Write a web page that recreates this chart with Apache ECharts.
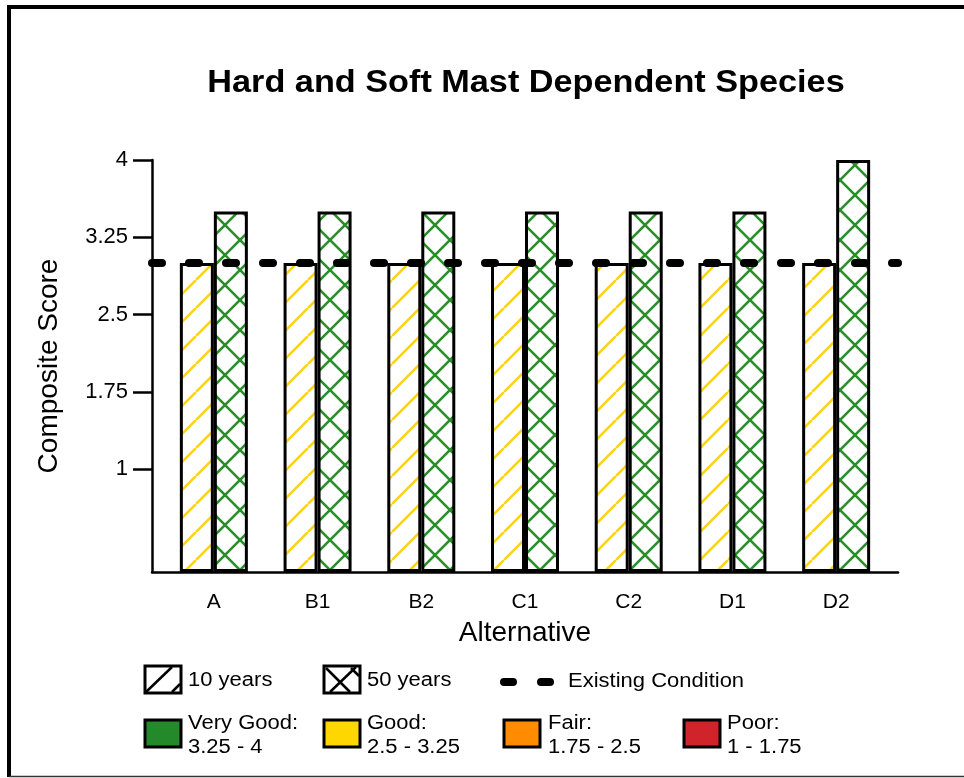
<!DOCTYPE html>
<html>
<head>
<meta charset="utf-8">
<script src="https://cdn.jsdelivr.net/npm/echarts@6/dist/echarts.min.js"></script>
<style>
  html, body { margin: 0; padding: 0; background: #fff; }
  #chart { width: 964px; height: 778px; }
</style>
</head>
<body>
<div id="chart"></div>
<script>
// Composite scores per alternative
const categories = ['A', 'B1', 'B2', 'C1', 'C2', 'D1', 'D2'];
const years10 = [3, 3, 3, 3, 3, 3, 3];
const years50 = [3.5, 3.5, 3.5, 3.5, 3.5, 3.5, 4];
const existingCondition = 3;
const yTicks = [1, 1.75, 2.5, 3.25, 4];
const seriesNames = ['10 years', '50 years', 'Existing Condition'];
const ratingNames = ['Very Good:', 'Good:', 'Fair:', 'Poor:'];
const ratingRanges = ['3.25 - 4', '2.5 - 3.25', '1.75 - 2.5', '1 - 1.75'];

const FONT = '"Liberation Sans", Arial, sans-serif';
const ratingColors = ['#23892a', '#ffd700', '#ff8c00', '#d0232a'];

// Hatch tile: "/" lines, optionally crossed with "\" lines
function hatch(color, cross, size) {
  const s = size;
  const c = document.createElement('canvas');
  c.width = c.height = s;
  const g = c.getContext('2d');
  g.fillStyle = '#fff';
  g.fillRect(0, 0, s, s);
  g.strokeStyle = color;
  g.lineWidth = 2.6;
  g.beginPath();
  for (const o of [-s, 0, s]) {
    g.moveTo(o, s); g.lineTo(o + s, 0);
    if (cross) { g.moveTo(o, 0); g.lineTo(o + s, s); }
  }
  g.stroke();
  return c;
}

const chart = echarts.init(document.getElementById('chart'), null, { renderer: 'canvas' });

const graphics = [];
// outer frame
graphics.push({ type: 'line', shape: { x1: 9, y1: 7, x2: 964, y2: 7 }, style: { stroke: '#000', lineWidth: 4 } });
graphics.push({ type: 'line', shape: { x1: 9, y1: 5, x2: 9, y2: 777 }, style: { stroke: '#000', lineWidth: 4 } });
graphics.push({ type: 'line', shape: { x1: 9, y1: 776.5, x2: 964, y2: 776.5 }, style: { stroke: '#333', lineWidth: 1.5 } });
// title
graphics.push({ type: 'text', x: 526, y: 83, scaleX: 1.07, style: {
  text: 'Hard and Soft Mast Dependent Species', font: 'bold 32px ' + FONT, fill: '#000',
  textAlign: 'center', textVerticalAlign: 'middle', align: 'center', verticalAlign: 'middle' } });

function label(x, y, txt) {
  return { type: 'text', x: x, y: y, scaleX: 1.1, style: {
    text: txt, font: '20px ' + FONT, fill: '#000', lineHeight: 24,
    textAlign: 'left', textVerticalAlign: 'middle', align: 'left', verticalAlign: 'middle' } };
}
function swatchBox(x, y, fill) {
  return { type: 'rect', shape: { x: x, y: y, width: 36, height: 27 }, style: { fill: fill, stroke: '#000', lineWidth: 3 } };
}
function seg(x1, y1, x2, y2, w, cap) {
  return { type: 'line', shape: { x1: x1, y1: y1, x2: x2, y2: y2 }, style: { stroke: '#000', lineWidth: w, lineCap: cap || 'butt' } };
}

// legend row 1: series keys
graphics.push(swatchBox(145, 666, '#fff'));
graphics.push(seg(146, 692, 172, 667, 2.5));
graphics.push(seg(172, 692, 180, 684, 2.5));
graphics.push(label(188, 680, seriesNames[0]));

graphics.push(swatchBox(324, 666, '#fff'));
graphics.push(seg(326, 668, 350, 692, 2.5));
graphics.push(seg(330, 692, 356, 667, 2.5));
graphics.push(seg(351, 668, 359, 676, 2.5));
graphics.push(label(367, 680, seriesNames[1]));

graphics.push(seg(504, 682, 513, 682, 8, 'round'));
graphics.push(seg(541, 682, 550, 682, 8, 'round'));
graphics.push(label(568, 681, seriesNames[2]));

// legend row 2: rating classes
const swX = [145, 324, 504, 684];
const txX = [188, 367, 548, 727];
ratingNames.forEach((n, i) => {
  graphics.push(swatchBox(swX[i], 720, ratingColors[i]));
  graphics.push(label(txX[i], 735, n + '\n' + ratingRanges[i]));
});

const option = {
  animation: false,
  backgroundColor: '#fff',
  grid: [
    { left: 162, right: 76, top: 160, bottom: 206 },
    { left: 152, right: 66, top: 160, bottom: 206 }
  ],
  xAxis: [
    {
      type: 'category', gridIndex: 0, data: categories,
      axisLine: { show: false }, axisTick: { show: false },
      axisLabel: { color: '#000', fontSize: 21, fontFamily: FONT, margin: 20 },
      name: 'Alternative', nameLocation: 'middle', nameGap: 47,
      nameTextStyle: { color: '#000', fontSize: 28, fontFamily: FONT }
    },
    {
      type: 'value', gridIndex: 1, min: 0, max: 1,
      axisLine: { show: true, lineStyle: { color: '#000', width: 2.5 } },
      axisTick: { show: false }, axisLabel: { show: false }, splitLine: { show: false }
    }
  ],
  yAxis: [
    { type: 'value', gridIndex: 0, min: 0, max: 4, show: false },
    {
      type: 'value', gridIndex: 1, min: 0, max: 4,
      axisLine: { show: true, lineStyle: { color: '#000', width: 2.5 } },
      axisTick: { show: true, length: 19, customValues: yTicks, lineStyle: { color: '#000', width: 2.5 } },
      axisLabel: { color: '#000', fontSize: 22, fontFamily: FONT, margin: 24, customValues: yTicks },
      splitLine: { show: false },
      name: 'Composite Score', nameLocation: 'middle', nameGap: 89, nameRotate: 90,
      nameTextStyle: { color: '#000', fontSize: 28, fontFamily: FONT }
    }
  ],
  series: [
    {
      name: seriesNames[0], type: 'bar', xAxisIndex: 0, yAxisIndex: 0, data: years10,
      barWidth: 34, barGap: '0%', silent: true,
      itemStyle: { color: { image: hatch('#ffd21a', false, 28), repeat: 'repeat' }, borderColor: '#000', borderWidth: 3 }
    },
    {
      name: seriesNames[1], type: 'bar', xAxisIndex: 0, yAxisIndex: 0, data: years50,
      barWidth: 34, barGap: '0%', silent: true,
      itemStyle: { color: { image: hatch('#2a8f2a', true, 30), repeat: 'repeat' }, borderColor: '#000', borderWidth: 3 }
    },
    {
      name: seriesNames[2], type: 'line', xAxisIndex: 1, yAxisIndex: 1, z: 5,
      data: [[0, existingCondition], [1, existingCondition]],
      symbol: 'none', silent: true,
      lineStyle: { color: '#000', width: 8, type: [10, 27], cap: 'round' }
    }
  ],
  graphic: graphics
};
chart.setOption(option);
</script>
</body>
</html>
